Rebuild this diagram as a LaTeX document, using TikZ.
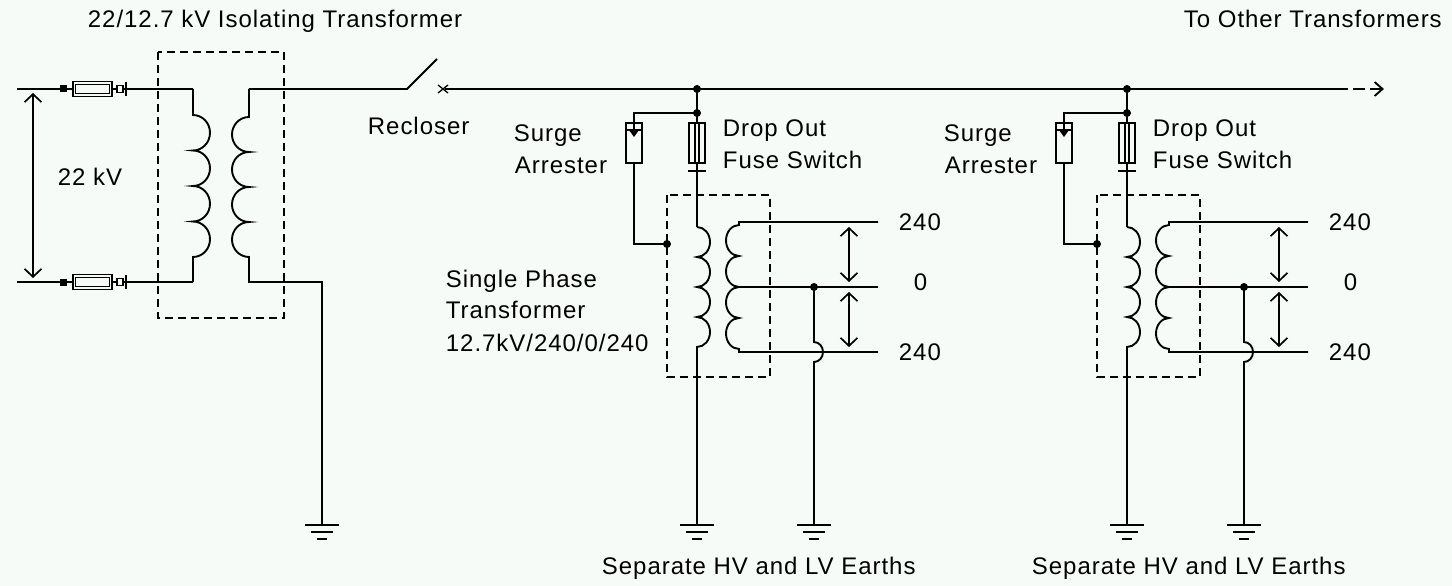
\documentclass[tikz,border=0pt]{standalone}
\usepackage{fontspec}
\setmainfont[LetterSpace=4]{Liberation Sans}
\usetikzlibrary{arrows.meta}
\definecolor{bgc}{RGB}{247,251,247}
\begin{document}
\begin{tikzpicture}[x=1pt,y=-1pt,line width=1.9pt,
  lbl/.style={font=\fontsize{24}{28}\selectfont,inner sep=0pt,anchor=base west},
  dbox/.style={line width=1.9pt,dash pattern=on 8pt off 5pt},
  jdot/.style={circle,fill,inner sep=0pt,minimum size=8pt},
  vmeas/.style={line width=1.7pt,{Straight Barb[length=8pt,width=17pt]}-{Straight Barb[length=8pt,width=17pt]}},
  earth/.pic={\draw (-17,0)--(17,0); \draw (-11,7)--(11,7); \draw (-5,14)--(5,14);}]
\fill[bgc] (0,0) rectangle (1452,586);
\useasboundingbox (0,0) rectangle (1452,586);

% texts
\node[lbl] (ttl) at (87,28) {22/12.7 kV Isolating Transformer};
\node[lbl] (toth) at (1183,28) {To Other Transformers};
\node[lbl] (rec) at (367,134) {Recloser};
\node[lbl] (kv) at (57,185) {22 kV};
\node[lbl] (sp1) at (445,287) {Single Phase};
\node[lbl] (sp2) at (445,318) {Transformer};
\node[lbl] (sp3) at (445,351) {12.7kV/240/0/240};

% input lines with fuses
\foreach \n/\yy in {t/89,b/282} {
  \coordinate (in\n) at (17,\yy);
  \coordinate (pe\n) at (193,\yy);
  \draw (in\n) -- (pe\n);
  \fill (60,\yy-3.5) rectangle (67,\yy+3.5);
  \draw[fill=bgc] (73,\yy-7.5) rectangle (112,\yy+7.5);
  \draw[line width=1pt] (75.5,\yy-4.5) rectangle (109.5,\yy+4.5);
  \draw[fill=bgc,line width=1.4pt] (117,\yy-3.5) rectangle (123,\yy+3.5);
  \draw (126,\yy-7) -- (126,\yy+7);
}
\draw[vmeas] (33,93) -- (33,278);

% isolating transformer
\draw (pet) -- (193,115)
  arc[start angle=90,end angle=-90,x radius=17pt,y radius=17.75pt]
  arc[start angle=90,end angle=-90,x radius=17pt,y radius=17.75pt]
  arc[start angle=90,end angle=-90,x radius=17pt,y radius=17.75pt]
  arc[start angle=90,end angle=-90,x radius=17pt,y radius=17.75pt]
  -- (peb);
\coordinate (st) at (249,89);
\coordinate (sb) at (249,282);
\coordinate (g0) at (322,525);
\draw (st) -- (249,117)
  arc[start angle=90,end angle=270,x radius=17pt,y radius=17.5pt]
  arc[start angle=90,end angle=270,x radius=17pt,y radius=17.5pt]
  arc[start angle=90,end angle=270,x radius=17pt,y radius=17.5pt]
  arc[start angle=90,end angle=270,x radius=17pt,y radius=17.5pt]
  -- (sb) -- (322,282) -- (g0);
\pic at (g0) {earth};
\draw[dbox] (158,52) rectangle (284,318);

% bus and recloser
\coordinate (rc1) at (407,89);
\coordinate (rc2) at (437,59);
\coordinate (rx) at (445,89);
\coordinate (bend) at (1348,89);
\draw (st) -- (rc1) -- (rc2);
\draw[line width=1.3pt] (438,85) -- (448,93) (438,93) -- (448,85);
\draw (rx) -- (bend);
\draw (1353,89) -- (1365,89);
\draw[-{Straight Barb[length=8pt,width=14pt]}] (1370,89) -- (1384,89);

% distribution transformers
\foreach \u/\ox in {a/0,b/430} {
\begin{scope}[xshift=\ox pt]
  \node[jdot] (j\u) at (697,89) {};
  \node[jdot] (k\u) at (697,113) {};
  \node[jdot] (s\u) at (667,244) {};
  \node[jdot] (n\u) at (814,287) {};
  \draw (j\u.center) -- (k\u.center);
  % surge arrester
  \draw (k\u.center) -- (634,113) -- (634,130);
  \draw (626,123) rectangle (642,163);
  \draw (626,130) -- (642,130);
  \fill (629,130) -- (639,130) -- (634,137) -- cycle;
  \draw (634,163) -- (634,244) -- (s\u.center);
  % drop out fuse
  \draw (k\u.center) -- (697,123);
  \draw (689,123) rectangle (705,163);
  \draw[line width=1.2pt] (695,123) -- (695,163) (699,123) -- (699,163);
  \draw (697,163) -- (697,227);
  \draw (688,171) -- (706,171);
  \draw[dbox] (667,195) rectangle (770,377);
  % primary
  \draw (697,227)
    arc[start angle=90,end angle=-90,x radius=13pt,y radius=15pt]
    arc[start angle=90,end angle=-90,x radius=13pt,y radius=15pt]
    arc[start angle=90,end angle=-90,x radius=13pt,y radius=15pt]
    arc[start angle=90,end angle=-90,x radius=13pt,y radius=15pt]
    -- (697,525);
  \pic at (697,525) {earth};
  % secondary
  \draw (878,222) -- (739,222) -- (739,225)
    arc[start angle=90,end angle=270,x radius=13pt,y radius=15.5pt]
    arc[start angle=90,end angle=270,x radius=13pt,y radius=15.5pt]
    arc[start angle=90,end angle=270,x radius=13pt,y radius=15.5pt]
    arc[start angle=90,end angle=270,x radius=13pt,y radius=15.5pt]
    -- (739,352) -- (878,352);
  \draw (739,287) -- (878,287);
  \draw (n\u.center) -- (814,342)
    arc[start angle=90,end angle=-90,x radius=9pt,y radius=10pt]
    -- (814,525);
  \pic at (814,525) {earth};
  \draw[vmeas] (849,227) -- (849,282);
  \draw[vmeas] (849,292) -- (849,347);
  \node[lbl] (va\u) at (898,230) {240};
  \node[lbl] (vz\u) at (913,290) {0};
  \node[lbl] (vb\u) at (898,360) {240};
  \node[lbl] (sa\u) at (513,141) {Surge};
  \node[lbl] (sb\u) at (514,173) {Arrester};
  \node[lbl] (da\u) at (722,136) {Drop Out};
  \node[lbl] (db\u) at (722,168) {Fuse Switch};
  \node[lbl] (ea\u) at (601,574) {Separate HV and LV Earths};
\end{scope}
}
\end{tikzpicture}
\end{document}
